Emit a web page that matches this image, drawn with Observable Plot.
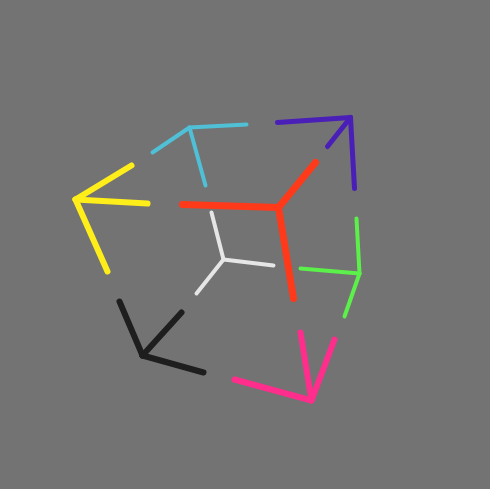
<!DOCTYPE html>
<html><head>
<script src="https://cdn.jsdelivr.net/npm/d3@7"></script>
<script src="https://cdn.jsdelivr.net/npm/@observablehq/plot@0.6"></script>
<style>body{margin:0;background:#737373}</style>
</head><body><div id="c"></div>
<script>
const names = ["red","cyan","purple","yellow","white","green","black","pink"];
const colors = ["#ff3a1a","#4fc0d6","#4a1fb8","#ffee1a","#e6e6e6","#5cf04a","#1e1e1e","#ff2e8c"];
const widths = [7,4,5,6,4,4,6,6];
const cornerX = [278,189,350,75,223,359,142,311];
const cornerY = [207,127,117,199,259,273,355,400];
const endX = [[182,315,293],[246,152,205],[277,327,354],[131,147,107],[211,273,196],[356,300,344],[119,181,203],[300,334,234]];
const endY = [[204,162,298],[124,152,185],[122,146,188],[165,203,271],[212,265,293],[218,268,316],[301,312,372],[332,339,379]];
const segs = [];
names.forEach((n,i)=>endX[i].forEach((ex,j)=>segs.push({n,c:colors[i],w:widths[i],x1:cornerX[i],y1:cornerY[i],x2:ex,y2:endY[i][j]})));
const p = Plot.plot({
  width:490,height:489,margin:0,
  style:{background:"#737373"},
  x:{domain:[0,490],range:[0,490],axis:null},
  y:{domain:[0,489],range:[0,489],axis:null},
  marks:[Plot.link(segs,{x1:"x1",y1:"y1",x2:"x2",y2:"y2",stroke:d=>d.c,strokeWidth:d=>d.w,strokeLinecap:"round"})]
});
document.getElementById("c").appendChild(p);
</script></body></html>
